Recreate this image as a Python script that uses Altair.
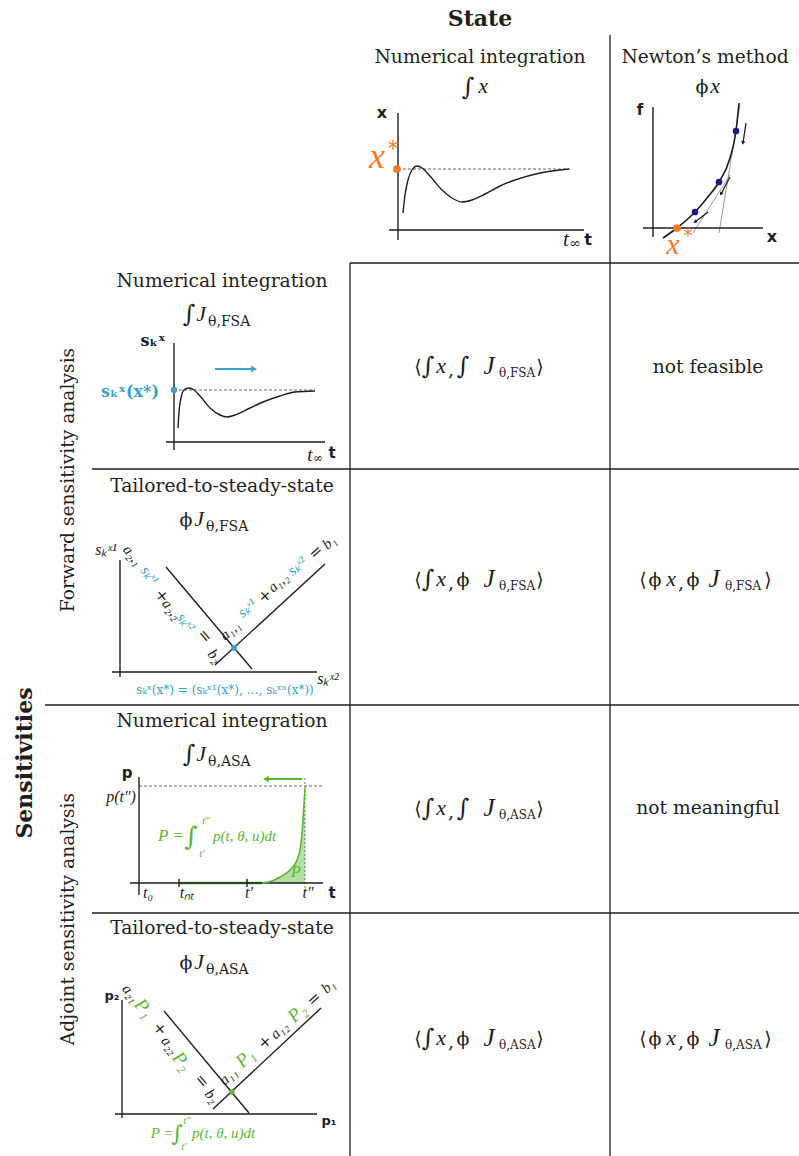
import math
import altair as alt
import pandas as pd

W, H = 799, 1156
K = "#1e1e1e"
ORANGE = "#f5791f"
TEAL = "#35a2c6"
GREEN = "#5cb531"
NAVY = "#19198c"
GRAY = "#9a9a9a"
FILL = "#a6d98f"

# ---------------- data ----------------
grid_segs = [(610, 35, 610, 1156), (350, 263, 350, 1156), (350, 263, 799, 263),
             (92, 469, 799, 469), (45, 705, 799, 705), (92, 913, 799, 913)]

axis_segs = [
    (398, 113, 398, 240), (389, 230, 584, 230),
    (653, 107, 653, 237), (643, 228, 763, 228),
    (174, 343, 174, 450), (166, 442, 325, 442),
    (120, 560, 120, 677), (112, 672, 317, 672), (166, 567, 252, 669), (215, 665, 325, 564),
    (139, 777, 139, 895), (130, 883, 323, 883), (179, 879, 179, 887), (247, 879, 247, 887),
    (122, 1000, 122, 1118), (115, 1114, 317, 1114), (164, 1011, 249, 1113), (213, 1109, 321, 1008),
]
dashed_segs = [(398, 169, 570, 169), (174, 390, 315, 390), (139, 786, 323, 786)]
dotted_segs = [(305, 778, 305, 890)]
tangent_segs = [(740, 105, 719, 233), (730, 175, 693, 233)]
green_base = [(180, 883, 262, 883)]

arrow_segs = [(215, 369, 254, 369, TEAL, 45), (302, 779, 266, 779, GREEN, 45),
              (746, 123, 743, 143, K, 18), (730, 177, 721, 194, K, 18),
              (708, 212, 695, 222, K, 18)]

state_t = [403, 405, 408, 412, 417, 422, 430, 442, 452, 462, 472, 485, 500, 515, 540, 569]
state_x = [213, 195, 180, 170, 166, 168, 176, 190, 198, 202, 200, 194, 186, 180, 173, 169]
fsa_t = [178, 179, 181, 184, 189, 194, 200, 210, 220, 227, 235, 250, 263, 280, 295, 315]
fsa_s = [428, 412, 398, 390, 388, 390, 396, 408, 415, 417, 415, 408, 402, 396, 392, 391]
newton_x = [663, 677, 695, 707, 719, 730, 736, 739]
newton_f = [238, 228, 212, 198, 182, 158, 131, 103]
asa_t = [262, 272, 280, 290, 297, 301, 303, 305]
asa_p = [883, 881, 877, 870, 860, 843, 820, 788]

dots = [(397, 169, ORANGE, 60, "circle"), (677, 228, ORANGE, 60, "circle"),
        (695, 212, NAVY, 45, "circle"), (719, 182, NAVY, 45, "circle"),
        (736, 131, NAVY, 45, "circle"), (174, 390, TEAL, 40, "circle"),
        (234, 648, TEAL, 28, "square"), (232, 1092, GREEN, 30, "circle")]

# text pieces: (text, x, y, size, colour, angle, font, align)
texts = [
    ("State", 480, 19, 22, K, 0, "serif_b", "center"),
    ("Numerical integration", 480, 57, 18.7, K, 0, "serif", "center"),
    ("Newton’s method", 705, 57, 18.7, K, 0, "serif", "center"),
    ("∫", 468, 88, 24, K, 0, "serif", "center"),
    ("x", 483, 86, 22, K, 0, "math", "center"),
    ("ϕ", 702, 87, 19, K, 0, "serif", "center"),
    ("x", 715, 86, 22, K, 0, "math", "center"),
    ("Sensitivities", 25, 763, 22, K, 270, "serif_b", "center"),
    ("Forward sensitivity analysis", 68, 480, 18.7, K, 270, "serif", "center"),
    ("Adjoint sensitivity analysis", 68, 919, 18.7, K, 270, "serif", "center"),
    ("Numerical integration", 222, 281, 18.7, K, 0, "serif", "center"),
    ("Tailored-to-steady-state", 222, 486, 18.7, K, 0, "serif", "center"),
    ("Numerical integration", 222, 721, 18.7, K, 0, "serif", "center"),
    ("Tailored-to-steady-state", 222, 928, 18.7, K, 0, "serif", "center"),
    # subtitle formulas
    ("∫", 189, 315, 24, K, 0, "serif", "center"),
    ("J", 201, 314, 22, K, 0, "math", "center"),
    ("θ,FSA", 208, 322, 14, K, 0, "serif", "left"),
    ("ϕ", 186, 520, 19, K, 0, "serif", "center"),
    ("J", 199, 519, 22, K, 0, "math", "center"),
    ("θ,FSA", 206, 527, 14, K, 0, "serif", "left"),
    ("∫", 189, 755, 24, K, 0, "serif", "center"),
    ("J", 201, 754, 22, K, 0, "math", "center"),
    ("θ,ASA", 208, 762, 14, K, 0, "serif", "left"),
    ("ϕ", 186, 963, 19, K, 0, "serif", "center"),
    ("J", 199, 962, 22, K, 0, "math", "center"),
    ("θ,ASA", 206, 970, 14, K, 0, "serif", "left"),
    ("not feasible", 708, 367, 18.7, K, 0, "serif", "center"),
    ("not meaningful", 708, 808, 18.7, K, 0, "serif", "center"),
    # state integration plot
    ("x", 382, 113, 16, K, 0, "sans_b", "center"),
    ("x", 377, 157, 36, ORANGE, 0, "math", "center"),
    ("*", 393, 149, 20, ORANGE, 0, "serif", "center"),
    ("t", 566, 240, 21, K, 0, "math", "center"),
    ("∞", 575, 244, 14, K, 0, "serif", "center"),
    ("t", 588, 240, 16, K, 0, "sans_b", "center"),
    # newton plot
    ("f", 640, 110, 15, K, 0, "sans_b", "center"),
    ("x", 772, 237, 16, K, 0, "sans_b", "center"),
    ("x", 673, 245, 30, ORANGE, 0, "math", "center"),
    ("*", 688, 237, 18, ORANGE, 0, "serif", "center"),
    # FSA integration plot
    ("sₖˣ", 153, 341, 16, K, 0, "serif_b", "center"),
    ("sₖˣ(x*)", 130, 392, 16, TEAL, 0, "serif_b", "center"),
    ("t", 310, 455, 19, K, 0, "math", "center"),
    ("∞", 318, 458, 12, K, 0, "serif", "center"),
    ("t", 332, 453, 15, K, 0, "sans_b", "center"),
    # FSA tailored plot
    ("sₖˣ¹", 106, 550, 16, K, 0, "math", "center"),
    ("sₖˣ²", 328, 679, 16, K, 0, "math", "center"),
    ("sₖˣ(x*) = (sₖˣ¹(x*), …, sₖˣⁿ(x*))", 225, 690, 12, TEAL, 0, "serif", "center"),
    ("a₂,₁", 133, 555, 15, K, 50, "math", "center"),
    ("sₖˣ¹", 150, 575, 15, TEAL, 50, "math", "center"),
    ("+", 162, 596, 16, K, 50, "serif", "center"),
    ("a₂,₂", 172, 609, 15, K, 50, "math", "center"),
    ("sₖˣ²", 186, 622, 15, TEAL, 50, "math", "center"),
    ("=", 205, 636, 16, K, 50, "serif", "center"),
    ("b₂", 215, 656, 15, K, 50, "math", "center"),
    ("a₁,₁", 230, 630, 15, K, 318, "math", "center"),
    ("sₖˣ¹", 247, 608, 15, TEAL, 318, "math", "center"),
    ("+", 265, 596, 16, K, 318, "serif", "center"),
    ("a₁,₂", 278, 582, 15, K, 318, "math", "center"),
    ("sₖˣ²", 297, 566, 15, TEAL, 318, "math", "center"),
    ("=", 316, 552, 16, K, 318, "serif", "center"),
    ("b₁", 329, 542, 15, K, 318, "math", "center"),
    # ASA integration plot
    ("p", 127, 773, 15, K, 0, "sans_b", "center"),
    ("p(t″)", 121, 797, 16, K, 0, "math", "center"),
    ("t₀", 148, 893, 16, K, 0, "math", "center"),
    ("tₙₜ", 187, 893, 16, K, 0, "math", "center"),
    ("t′", 249, 893, 16, K, 0, "math", "center"),
    ("t″", 308, 893, 16, K, 0, "math", "center"),
    ("t", 332, 893, 15, K, 0, "sans_b", "center"),
    ("P =", 171, 836, 17, GREEN, 0, "math", "center"),
    ("∫", 191, 837, 26, GREEN, 0, "serif", "center"),
    ("t″", 206, 821, 11, GREEN, 0, "math", "center"),
    ("t′", 202, 854, 11, GREEN, 0, "math", "center"),
    ("p(t, θ, u)dt", 213, 836, 15, GREEN, 0, "math", "left"),
    ("P", 296, 872, 16, GREEN, 0, "math", "center"),
    # ASA tailored plot
    ("p₂", 112, 996, 13, K, 0, "sans_b", "center"),
    ("p₁", 329, 1121, 13, K, 0, "sans_b", "center"),
    ("a₂₁", 131, 993, 15, K, 50, "math", "center"),
    ("P₁", 144, 1008, 19, GREEN, 50, "math", "center"),
    ("+", 160, 1029, 16, K, 50, "serif", "center"),
    ("a₂₂", 170, 1045, 15, K, 50, "math", "center"),
    ("P₂", 182, 1061, 19, GREEN, 50, "math", "center"),
    ("=", 202, 1081, 16, K, 50, "serif", "center"),
    ("b₂", 212, 1096, 15, K, 50, "math", "center"),
    ("a₁₁", 228, 1076, 15, K, 317, "math", "center"),
    ("P₁", 245, 1058, 19, GREEN, 317, "math", "center"),
    ("+", 265, 1042, 16, K, 317, "serif", "center"),
    ("a₁₂", 279, 1030, 15, K, 317, "math", "center"),
    ("P₂", 297, 1013, 19, GREEN, 317, "math", "center"),
    ("=", 314, 999, 16, K, 317, "serif", "center"),
    ("b₁", 328, 986, 15, K, 317, "math", "center"),
    ("P =", 162, 1133, 15, GREEN, 0, "math", "center"),
    ("∫", 177, 1134, 22, GREEN, 0, "serif", "center"),
    ("t″", 187, 1121, 10, GREEN, 0, "math", "center"),
    ("t′", 184, 1147, 10, GREEN, 0, "math", "center"),
    ("p(t, θ, u)dt", 192, 1133, 15, GREEN, 0, "math", "left"),
]

# the eight cells of the table
cell_rows = [367, 580, 809, 1039]
cell_ops = ["∫", "ϕ", "∫", "ϕ"]
cell_subs = ["θ,FSA", "θ,FSA", "θ,ASA", "θ,ASA"]
right_has_formula = [False, True, False, True]

for yy, op, sub, rf in zip(cell_rows, cell_ops, cell_subs, right_has_formula):
    texts += [
        ("⟨", 418, yy, 19, K, 0, "serif", "center"),
        ("∫", 428, yy, 24, K, 0, "serif", "center"),
        ("x", 441, yy - 1, 22, K, 0, "math", "center"),
        (",", 451, yy + 3, 19, K, 0, "serif", "center"),
        (op, 463, yy, 24 if op == "∫" else 19, K, 0, "serif", "center"),
        ("J", 489, yy - 1, 25, K, 0, "math", "center"),
        (sub, 499, yy + 6, 12, K, 0, "serif", "left"),
        ("⟩", 540, yy, 19, K, 0, "serif", "center"),
    ]
    if rf:
        texts += [
            ("⟨", 643, yy, 19, K, 0, "serif", "center"),
            ("ϕ", 655, yy, 19, K, 0, "serif", "center"),
            ("x", 671, yy - 1, 22, K, 0, "math", "center"),
            (",", 681, yy + 3, 19, K, 0, "serif", "center"),
            ("ϕ", 693, yy, 19, K, 0, "serif", "center"),
            ("J", 714, yy - 1, 25, K, 0, "math", "center"),
            (sub, 725, yy + 6, 12, K, 0, "serif", "left"),
            ("⟩", 768, yy, 19, K, 0, "serif", "center"),
        ]

FONTS = {
    "serif": ("DejaVu Serif", "normal", "normal"),
    "math": ("Liberation Serif", "italic", "normal"),
    "serif_b": ("DejaVu Serif", "normal", "bold"),
    "sans_b": ("DejaVu Sans", "normal", "bold"),
}

XS = alt.Scale(domain=[0, W], nice=False, zero=False)
YS = alt.Scale(domain=[0, H], reverse=True, nice=False, zero=False)


def X(f="x"):
    return alt.X(f"{f}:Q", scale=XS, axis=None)


def Y(f="y"):
    return alt.Y(f"{f}:Q", scale=YS, axis=None)


def seg_df(segs):
    return pd.DataFrame([s[:4] for s in segs], columns=["x", "y", "x2", "y2"])


def rules(segs, color, width, dash=None):
    kw = dict(color=color, strokeWidth=width)
    if dash:
        kw["strokeDash"] = dash
    return alt.Chart(seg_df(segs)).mark_rule(**kw).encode(
        x=X(), y=Y(), x2="x2:Q", y2="y2:Q")


def curve(xv, yv, color, width):
    df = pd.DataFrame({"x": xv, "y": yv})
    return alt.Chart(df).mark_line(color=color, strokeWidth=width,
                                   interpolate="monotone").encode(x=X(), y=Y())


layers = []
area_df = pd.DataFrame({"x": asa_t, "y": asa_p, "y2": [883] * len(asa_t)})
layers.append(alt.Chart(area_df).mark_area(color=FILL, opacity=0.85,
                                           interpolate="monotone").encode(
    x=X(), y=Y(), y2="y2:Q"))

layers.append(rules(grid_segs, K, 1.3))
layers.append(rules(dashed_segs, "#666666", 1, [3, 2]))
layers.append(rules(dotted_segs, "#777777", 1, [2, 2]))
layers.append(rules(tangent_segs, GRAY, 1))
layers.append(rules(green_base, GREEN, 2.5))
layers.append(rules(axis_segs, K, 1.4))

layers.append(curve(state_t, state_x, K, 1.4))
layers.append(curve(fsa_t, fsa_s, K, 1.4))
layers.append(curve(newton_x, newton_f, K, 1.6))
layers.append(curve(asa_t, asa_p, GREEN, 1.5))

arr = pd.DataFrame([a[:5] for a in arrow_segs], columns=["x", "y", "x2", "y2", "color"])
arr["w"] = [2.0, 2.0, 1.3, 1.3, 1.3]
arr["size"] = [a[5] for a in arrow_segs]
arr["angle"] = [(math.degrees(math.atan2(a[2] - a[0], -(a[3] - a[1]))) + 360) % 360
                for a in arrow_segs]
layers.append(alt.Chart(arr).mark_rule().encode(
    x=X(), y=Y(), x2="x2:Q", y2="y2:Q",
    color=alt.Color("color:N", scale=None),
    strokeWidth=alt.StrokeWidth("w:Q", scale=None)))
layers.append(alt.Chart(arr).mark_point(shape="triangle-up", filled=True, opacity=1).encode(
    x=X("x2"), y=Y("y2"),
    color=alt.Color("color:N", scale=None),
    size=alt.Size("size:Q", scale=None),
    angle=alt.Angle("angle:Q", scale=None)))

dot_df = pd.DataFrame(dots, columns=["x", "y", "color", "size", "shape"])
layers.append(alt.Chart(dot_df).mark_point(filled=True, opacity=1).encode(
    x=X(), y=Y(),
    color=alt.Color("color:N", scale=None),
    size=alt.Size("size:Q", scale=None),
    shape=alt.Shape("shape:N", scale=None)))

tdf = pd.DataFrame(texts, columns=["text", "x", "y", "size", "color", "angle", "font", "align"])
for (fkey, al), g in tdf.groupby(["font", "align"]):
    font, style, weight = FONTS[fkey]
    layers.append(alt.Chart(g).mark_text(font=font, fontStyle=style, fontWeight=weight,
                                         align=al, baseline="middle").encode(
        x=X(), y=Y(), text="text:N",
        size=alt.Size("size:Q", scale=None),
        color=alt.Color("color:N", scale=None),
        angle=alt.Angle("angle:Q", scale=None)))

chart = alt.layer(*layers).properties(
    width=W, height=H, padding=0, background="white",
    autosize=alt.AutoSizeParams(type="none"),
).configure_view(stroke=None)

chart.save("out.html", embed_options={"renderer": "svg", "actions": False})
